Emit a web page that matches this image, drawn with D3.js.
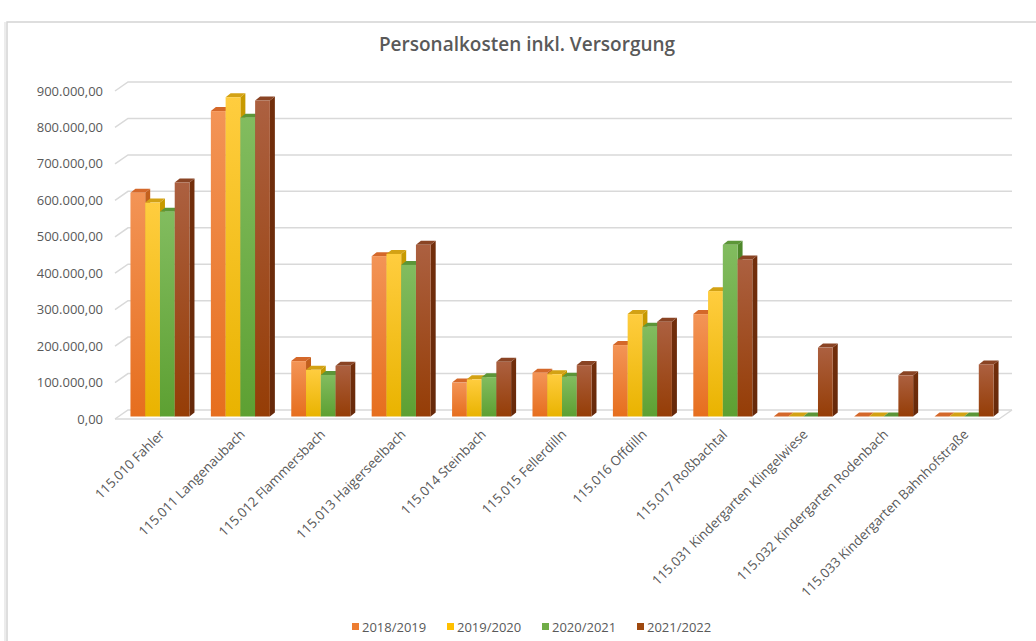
<!DOCTYPE html>
<html lang="de">
<head>
  <meta charset="utf-8">
  <title>Personalkosten inkl. Versorgung</title>
  <script src="https://d3js.org/d3.v7.min.js"></script>
  <style>
    body { margin: 0; background: #fff; }
    text { font-family: "Open Sans", "DejaVu Sans", sans-serif; fill: #595959; }
  </style>
</head>
<body>
  <script>
    var W = 1036, H = 641;

    // Daten
    var categories = ['115.010 Fahler', '115.011 Langenaubach', '115.012 Flammersbach', '115.013 Haigerseelbach',
      '115.014 Steinbach', '115.015 Fellerdilln', '115.016 Offdilln', '115.017 Roßbachtal',
      '115.031 Kindergarten Klingelwiese', '115.032 Kindergarten Rodenbach', '115.033 Kindergarten Bahnhofstraße'];
    var seriesNames = ['2018/2019', '2019/2020', '2020/2021', '2021/2022'];
    var v2018 = [614000, 838000, 152000, 440000, 93000, 120000, 196000, 281000, 0, 0, 0];
    var v2019 = [587000, 876000, 128000, 446000, 102000, 116000, 281000, 344000, 0, 0, 0];
    var v2020 = [562000, 820000, 114000, 416000, 108000, 109000, 246000, 471000, 0, 0, 0];
    var v2021 = [642000, 867000, 139000, 471000, 150000, 141000, 260000, 431000, 189000, 113000, 143000];
    var yTicks = [0, 100000, 200000, 300000, 400000, 500000, 600000, 700000, 800000, 900000];

    var seriesValues = [v2018, v2019, v2020, v2021];
    // Farben: Vorderseite oben / unten, Seite, Deckel
    var colors = [
      { top: '#F39456', bottom: '#E66E1E', side: '#B0561A', cap: '#D4682A', legend: '#ED7D31' },
      { top: '#FFCD3F', bottom: '#E9B300', side: '#B48A00', cap: '#D3A214', legend: '#FFC000' },
      { top: '#82BC5F', bottom: '#5DA032', side: '#467A27', cap: '#5C9638', legend: '#70AD47' },
      { top: '#AC6040', bottom: '#953D06', side: '#66290A', cap: '#8A4424', legend: '#9E480E' }
    ];

    var svg = d3.select('body').append('svg')
      .attr('width', W)
      .attr('height', H);

    // Rahmen
    svg.append('rect')
      .attr('x', 7).attr('y', 22)
      .attr('width', W).attr('height', H)
      .attr('fill', '#fff')
      .attr('stroke', '#d4d4d4')
      .attr('stroke-width', 1.5);
    svg.append('line')
      .attr('x1', 5).attr('x2', 5).attr('y1', 22).attr('y2', H)
      .attr('stroke', '#ececec').attr('stroke-width', 2);

    svg.append('text')
      .attr('x', 527).attr('y', 51)
      .attr('text-anchor', 'middle')
      .style('font-size', '19px')
      .style('font-weight', 600)
      .text('Personalkosten inkl. Versorgung');

    // 3D-Versatz
    var wallDx = 13, wallDy = -9;   // Rückwand
    var barDy = -2.5;               // Balken-Vorderseite
    var depthX = 5, depthY = -4;    // Balkentiefe

    var x0 = d3.scaleBand()
      .domain(categories)
      .range([120, 1004])
      .paddingInner(0.266)
      .paddingOuter(0.13);
    var x1 = d3.scaleBand()
      .domain(seriesNames)
      .range([0, x0.bandwidth()]);
    var y = d3.scaleLinear()
      .domain([0, 900000])
      .range([419, 91]);

    var de = d3.formatLocale({ decimal: ',', thousands: '.', grouping: [3], currency: ['', '€'] });
    var fmt = de.format(',.2f');

    // Gitterlinien (Rückwand + Diagonale links)
    var grid = svg.append('g');
    grid.selectAll('.grid')
      .data(yTicks)
    .enter().append('polyline')
      .attr('class', 'grid')
      .attr('points', function(d) {
        return [[115, y(d)], [115 + wallDx, y(d) + wallDy], [1012, y(d) + wallDy]].join(' ');
      })
      .attr('fill', 'none')
      .attr('stroke', '#d9d9d9')
      .attr('stroke-width', 1.5);
    // Boden vorne
    grid.append('line')
      .attr('x1', 115).attr('x2', 999)
      .attr('y1', y(0)).attr('y2', y(0))
      .attr('stroke', '#d9d9d9').attr('stroke-width', 1.5);
    grid.append('line')
      .attr('x1', 999).attr('x2', 1012)
      .attr('y1', y(0)).attr('y2', y(0) + wallDy)
      .attr('stroke', '#d9d9d9').attr('stroke-width', 1.5);

    // y-Achsenbeschriftung
    svg.selectAll('.ylab')
      .data(yTicks)
    .enter().append('text')
      .attr('class', 'ylab')
      .attr('x', 103)
      .attr('y', function(d) { return y(d); })
      .attr('dy', '0.35em')
      .attr('text-anchor', 'end')
      .style('font-size', '13px')
      .text(function(d) { return fmt(d); });

    // Verläufe
    var defs = svg.append('defs');
    colors.forEach(function(c, i) {
      var g = defs.append('linearGradient')
        .attr('id', 'grad' + i)
        .attr('x1', 0).attr('y1', 0).attr('x2', 0).attr('y2', 1);
      g.append('stop').attr('offset', '0%').attr('stop-color', c.top);
      g.append('stop').attr('offset', '100%').attr('stop-color', c.bottom);
      var s = defs.append('linearGradient')
        .attr('id', 'side' + i)
        .attr('x1', 0).attr('y1', 0).attr('x2', 0).attr('y2', 1);
      s.append('stop').attr('offset', '0%').attr('stop-color', d3.color(c.side).brighter(0.3));
      s.append('stop').attr('offset', '100%').attr('stop-color', c.side);
    });

    var bars = [];
    categories.forEach(function(cat, ci) {
      seriesNames.forEach(function(s, si) {
        bars.push({ cat: cat, s: s, si: si, v: seriesValues[si][ci] });
      });
    });

    var bw = x1.bandwidth();
    var barG = svg.selectAll('.bar')
      .data(bars)
    .enter().append('g')
      .attr('class', 'bar');

    function bx(d) { return x0(d.cat) + x1(d.s); }
    function byTop(d) { return y(d.v) + barDy; }
    function byBase(d) { return y(0) + barDy; }

    // Seitenfläche
    barG.append('polygon')
      .attr('points', function(d) {
        var xr = bx(d) + bw, t = byTop(d), b = byBase(d);
        return [[xr, t], [xr + depthX, t + depthY], [xr + depthX, b + depthY], [xr, b]].join(' ');
      })
      .attr('fill', function(d) { return 'url(#side' + d.si + ')'; });
    // Deckel
    barG.append('polygon')
      .attr('points', function(d) {
        var xl = bx(d), t = byTop(d);
        return [[xl, t], [xl + depthX, t + depthY], [xl + bw + depthX, t + depthY], [xl + bw, t]].join(' ');
      })
      .attr('fill', function(d) { return colors[d.si].cap; });
    // Vorderseite
    barG.append('rect')
      .attr('x', bx)
      .attr('y', byTop)
      .attr('width', bw)
      .attr('height', function(d) { return Math.max(0, byBase(d) - byTop(d)); })
      .attr('fill', function(d) { return 'url(#grad' + d.si + ')'; });

    // x-Achsenbeschriftung
    svg.selectAll('.xlab')
      .data(categories)
    .enter().append('text')
      .attr('class', 'xlab')
      .attr('transform', function(d) {
        return 'translate(' + (x0(d) + x0.bandwidth() / 2 + 2) + ',' + 432 + ') rotate(-45)';
      })
      .attr('text-anchor', 'end')
      .attr('dy', '0.35em')
      .style('font-size', '13.3px')
      .text(function(d) { return d; });

    // Legende
    var legend = svg.append('g')
      .attr('transform', 'translate(352,627)');
    var item = legend.selectAll('.leg')
      .data(seriesNames)
    .enter().append('g')
      .attr('class', 'leg')
      .attr('transform', function(d, i) { return 'translate(' + (i * 95) + ',0)'; });
    item.append('rect')
      .attr('x', 0).attr('y', -4)
      .attr('width', 7).attr('height', 7)
      .attr('fill', function(d, i) { return colors[i].legend; });
    item.append('text')
      .attr('x', 10)
      .attr('dy', '0.35em')
      .style('font-size', '13px')
      .text(function(d) { return d; });
  </script>
</body>
</html>
